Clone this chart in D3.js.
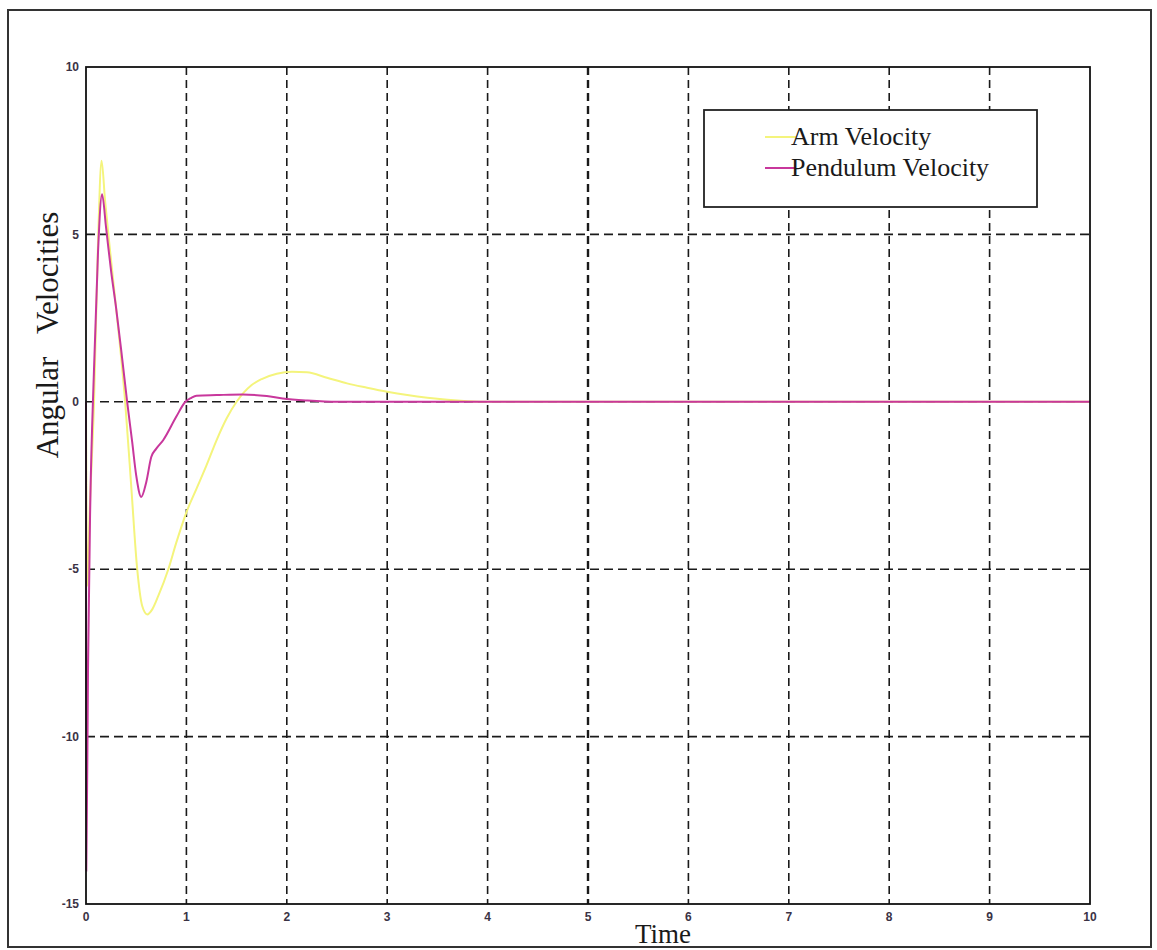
<!DOCTYPE html>
<html>
<head>
<meta charset="utf-8">
<script src="https://cdn.jsdelivr.net/npm/d3@7"></script>
<style>
  body { margin: 0; background: #fff; }
  svg { display: block; }
</style>
</head>
<body>
<svg id="chart"></svg>
<script>
// time samples and angular velocities
const armTime = [0, 0.01, 0.04, 0.08, 0.12, 0.155, 0.19, 0.24, 0.3, 0.39, 0.45, 0.51, 0.56, 0.61, 0.66, 0.72, 0.82, 0.9, 1.0, 1.1, 1.2, 1.3, 1.4, 1.5, 1.65, 1.75, 1.9, 2.05, 2.2, 2.4, 2.6, 2.8, 3.0, 3.2, 3.4, 3.6, 3.8, 4.0, 10];
const armVel  = [0, -5.5, -3, 0, 4.8, 7.2, 6.0, 4.5, 2.8, 0, -2.5, -5, -6.1, -6.35, -6.2, -5.8, -5, -4.2, -3.3, -2.6, -1.9, -1.15, -0.5, 0, 0.5, 0.68, 0.84, 0.9, 0.88, 0.72, 0.55, 0.42, 0.3, 0.2, 0.12, 0.06, 0.02, 0, 0];

const pendTime = [0, 0.003, 0.02, 0.04, 0.08, 0.12, 0.16, 0.2, 0.25, 0.3, 0.36, 0.41, 0.46, 0.5, 0.55, 0.6, 0.65, 0.7, 0.77, 0.9, 0.99, 1.05, 1.1, 1.3, 1.56, 1.8, 1.96, 2.2, 2.5, 10];
const pendVel  = [0, -14, -8, -3.5, 1, 4.5, 6.2, 5.2, 3.9, 2.8, 1.3, 0, -1.2, -2.2, -2.84, -2.4, -1.65, -1.4, -1.14, -0.44, 0, 0.12, 0.18, 0.2, 0.22, 0.17, 0.1, 0.04, 0, 0];

const xTicks = [0, 1, 2, 3, 4, 5, 6, 7, 8, 9, 10];
const yTicks = [10, 5, 0, -5, -10, -15];
const seriesNames = ["Arm Velocity", "Pendulum Velocity"];
const seriesColors = ["#f4f47c", "#c8379c"];

const W = 1157, H = 950;
const svg = d3.select("#chart").attr("width", W).attr("height", H);

// outer frame of the scanned figure
svg.append("rect")
  .attr("x", 8).attr("y", 10)
  .attr("width", 1143).attr("height", 937)
  .attr("fill", "#fff")
  .attr("stroke", "#333")
  .attr("stroke-width", 2);

const x = d3.scaleLinear().domain([0, 10]).range([86, 1090]);
const y = d3.scaleLinear().domain([-15, 10]).range([904, 67]);

// dashed grid
svg.append("g").selectAll("line")
  .data(xTicks.slice(1, -1))
  .join("line")
  .attr("x1", d => x(d)).attr("x2", d => x(d))
  .attr("y1", y(10)).attr("y2", y(-15))
  .attr("stroke", "#1a1a1a")
  .attr("stroke-width", d => d === 5 ? 2.4 : 1.6)
  .attr("stroke-dasharray", "8,5");

svg.append("g").selectAll("line")
  .data(yTicks.slice(1, -1))
  .join("line")
  .attr("x1", x(0)).attr("x2", x(10))
  .attr("y1", d => y(d)).attr("y2", d => y(d))
  .attr("stroke", "#1a1a1a")
  .attr("stroke-width", 1.6)
  .attr("stroke-dasharray", "9,5");

// tick labels
const labelColor = "#3b3345";
svg.append("g").selectAll("text")
  .data(yTicks)
  .join("text")
  .attr("x", 79)
  .attr("y", d => y(d))
  .attr("dy", "0.35em")
  .attr("text-anchor", "end")
  .attr("font-family", "Liberation Sans, Arial, sans-serif")
  .attr("font-weight", "bold")
  .attr("font-size", 12)
  .attr("fill", labelColor)
  .text(d => d);

svg.append("g").selectAll("text")
  .data(xTicks)
  .join("text")
  .attr("x", d => x(d))
  .attr("y", 921)
  .attr("text-anchor", "middle")
  .attr("font-family", "Liberation Sans, Arial, sans-serif")
  .attr("font-weight", "bold")
  .attr("font-size", 12)
  .attr("fill", labelColor)
  .text(d => d);

// curves
const line = d3.line()
  .x(d => x(d[0]))
  .y(d => y(d[1]))
  .curve(d3.curveMonotoneX);

const armData = armTime.map((t, i) => [t, armVel[i]]);
const pendData = pendTime.map((t, i) => [t, pendVel[i]]);

svg.append("path")
  .datum(armData)
  .attr("d", line)
  .attr("fill", "none")
  .attr("stroke", seriesColors[0])
  .attr("stroke-width", 2);

svg.append("path")
  .datum(pendData)
  .attr("d", line)
  .attr("fill", "none")
  .attr("stroke", seriesColors[1])
  .attr("stroke-width", 2);

// plot box
svg.append("rect")
  .attr("x", x(0)).attr("y", y(10))
  .attr("width", x(10) - x(0)).attr("height", y(-15) - y(10))
  .attr("fill", "none")
  .attr("stroke", "#111")
  .attr("stroke-width", 1.8);

// legend
const legend = svg.append("g");
legend.append("rect")
  .attr("x", 704).attr("y", 110)
  .attr("width", 333).attr("height", 97)
  .attr("fill", "#fff")
  .attr("stroke", "#222")
  .attr("stroke-width", 1.8);

seriesNames.forEach((name, i) => {
  const ly = 137 + i * 31;
  legend.append("line")
    .attr("x1", 765).attr("x2", 796)
    .attr("y1", ly).attr("y2", ly)
    .attr("stroke", seriesColors[i])
    .attr("stroke-width", 2);
  legend.append("text")
    .attr("x", 791)
    .attr("y", ly + 8)
    .attr("font-family", "Liberation Serif, Times New Roman, serif")
    .attr("font-size", 26)
    .attr("fill", "#1a1a1a")
    .text(name);
});

// axis titles
svg.append("text")
  .attr("x", 663)
  .attr("y", 943)
  .attr("text-anchor", "middle")
  .attr("font-family", "Liberation Serif, Times New Roman, serif")
  .attr("font-size", 27)
  .attr("fill", "#1a1a1a")
  .text("Time");

svg.append("text")
  .attr("transform", "translate(58,335) rotate(-90)")
  .attr("text-anchor", "middle")
  .attr("font-family", "Liberation Serif, Times New Roman, serif")
  .attr("font-size", 31)
  .attr("fill", "#1a1a1a")
  .style("white-space", "pre")
  .text("Angular   Velocities");
</script>
</body>
</html>
